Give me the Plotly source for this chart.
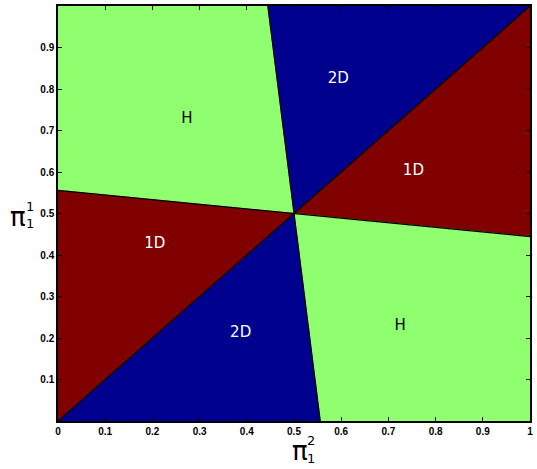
import plotly.graph_objects as go

# Boundary data (pi_1^2 on x, pi_1^1 on y); all boundaries meet at the centre
center = (0.5, 0.5)
left_edge_y = 0.5556    # boundary hits left edge (x=0)
right_edge_y = 0.4444   # boundary hits right edge (x=1)
top_edge_x = 0.4446     # boundary hits top edge (y=1)
bottom_edge_x = 0.5556  # boundary hits bottom edge (y=0)

region_names = ["H", "2D", "1D", "H", "2D", "1D"]
region_colors = ["#8FFF6F", "#00008F", "#800000", "#8FFF6F", "#00008F", "#800000"]
label_x = [0.273, 0.594, 0.753, 0.725, 0.387, 0.205]
label_y = [0.727, 0.823, 0.602, 0.229, 0.211, 0.427]
label_colors = ["black", "white", "white", "black", "white", "white"]

cx, cy = center
polys = [
    ([0, 0, top_edge_x, cx], [left_edge_y, 1, 1, cy]),          # H top-left
    ([top_edge_x, 1, cx], [1, 1, cy]),                           # 2D top
    ([cx, 1, 1], [cy, 1, right_edge_y]),                         # 1D right
    ([cx, 1, 1, bottom_edge_x], [cy, right_edge_y, 0, 0]),       # H bottom-right
    ([0, bottom_edge_x, cx], [0, 0, cy]),                        # 2D bottom
    ([0, cx, 0], [0, cy, left_edge_y]),                          # 1D left
]

fig = go.Figure()
for (xs, ys), col in zip(polys, region_colors):
    fig.add_trace(go.Scatter(x=xs + [xs[0]], y=ys + [ys[0]], fill="toself",
                             fillcolor=col, mode="lines",
                             line=dict(color=col, width=0.5),
                             hoverinfo="skip", showlegend=False))

# boundary lines
lines = [([0, 1], [0, 1]), ([0, 1], [left_edge_y, right_edge_y]),
         ([top_edge_x, bottom_edge_x], [1, 0])]
for xs, ys in lines:
    fig.add_trace(go.Scatter(x=xs, y=ys, mode="lines",
                             line=dict(color="black", width=1.2),
                             hoverinfo="skip", showlegend=False))

fig.add_trace(go.Scatter(x=label_x, y=label_y, mode="text", text=region_names,
                         textfont=dict(family="DejaVu Sans", size=15, color=label_colors),
                         hoverinfo="skip", showlegend=False))

xticks = [0, 0.1, 0.2, 0.3, 0.4, 0.5, 0.6, 0.7, 0.8, 0.9, 1]
xticktext = ["0", "0.1", "0.2", "0.3", "0.4", "0.5", "0.6", "0.7", "0.8", "0.9", "1"]
yticks = [0.1, 0.2, 0.3, 0.4, 0.5, 0.6, 0.7, 0.8, 0.9]
yticktext = ["0.1", "0.2", "0.3", "0.4", "0.5", "0.6", "0.7", "0.8", "0.9"]

axis_common = dict(showgrid=False, zeroline=False, showline=True, linecolor="black",
                   linewidth=1.5, mirror="ticks", ticks="inside", ticklen=4,
                   tickcolor="black",
                   tickfont=dict(family="Liberation Sans", size=10, color="black", weight="bold"))

big = dict(family="DejaVu Sans", size=26, color="black")
small = dict(family="DejaVu Sans", size=13, color="black")


def ann(text, x, y, font):
    return dict(text=text, xref="paper", yref="paper", x=x, y=y, xanchor="center",
                yanchor="middle", showarrow=False, font=font, borderpad=0)


fig.update_layout(
    width=537, height=469,
    margin=dict(l=58, r=6, t=4, b=48),
    paper_bgcolor="white", plot_bgcolor="white",
    xaxis=dict(range=[0, 1], tickvals=xticks, ticktext=xticktext, **axis_common),
    yaxis=dict(range=[0, 1], tickvals=yticks, ticktext=yticktext, **axis_common),
    annotations=[
        ann("π", 0.512, -0.072, big),
        ann("2", 0.537, -0.047, small),
        ann("1", 0.537, -0.090, small),
        ann("π", -0.085, 0.492, big),
        ann("1", -0.060, 0.518, small),
        ann("1", -0.060, 0.476, small),
    ],
)

fig.write_html("out.html", config={"displayModeBar": False},
               post_script="document.body.style.margin='0';")
